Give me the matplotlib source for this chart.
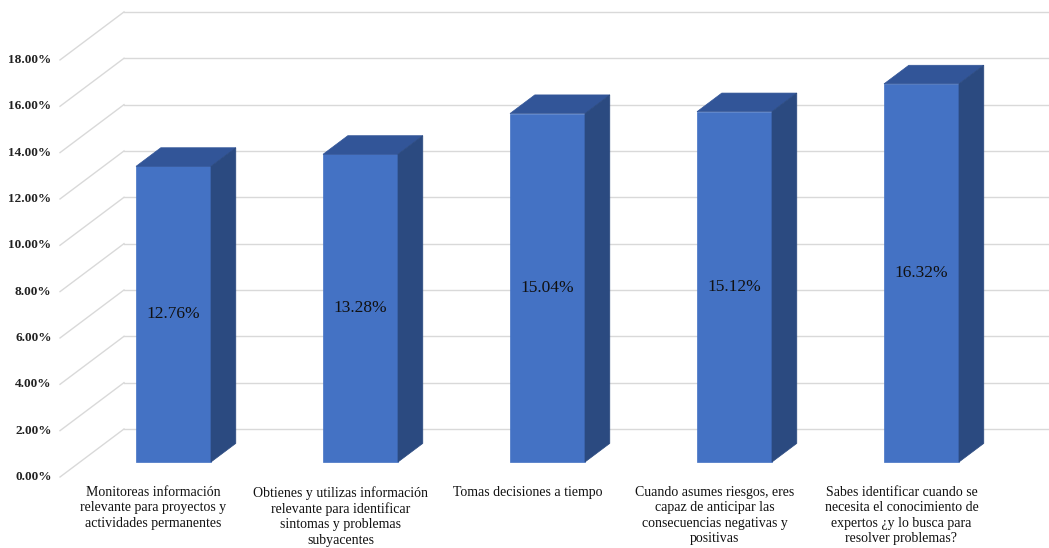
import matplotlib.pyplot as plt
from matplotlib.patches import Polygon

# datos del grafico
categorias = [
    "Monitoreas información\nrelevante para proyectos y\nactividades permanentes",
    "Obtienes y utilizas información\nrelevante para identificar\nsintomas y problemas\nsubyacentes",
    "Tomas decisiones a tiempo",
    "Cuando asumes riesgos, eres\ncapaz de anticipar las\nconsecuencias negativas y\npositivas",
    "Sabes identificar cuando se\nnecesita el conocimiento de\nexpertos ¿y lo busca para\nresolver problemas?",
]
valores = [12.76, 13.28, 15.04, 15.12, 16.32]
ticks = [0, 2, 4, 6, 8, 10, 12, 14, 16, 18]

plt.rcParams['font.family'] = ['Liberation Serif', 'DejaVu Serif']

fig = plt.figure(figsize=(10.49, 5.48), dpi=100)
ax = fig.add_axes([0, 0, 1, 1])
ax.set_xlim(-0.8209, 4.7888)
ax.set_ylim(-3.064, 20.587)
ax.axis('off')

# proyeccion oblicua: profundidad completa en unidades de datos
dx, dy = 0.3422, 2.072
d0, d1 = 0.3125, 0.70
hw = 0.2005

grid_col = '#D9D9D9'
for t in ticks:
    ax.plot([-0.5, -0.5 + dx], [t, t + dy], color=grid_col, lw=1, zorder=1)
    ax.plot([-0.5 + dx, 4.8], [t + dy, t + dy], color=grid_col, lw=1, zorder=1)
    ax.text(-0.545, t, '%.2f%%' % t, ha='right', va='center',
            fontsize=9.5, fontweight='bold', color='#222222')

c_front = '#4472C4'
c_top = '#325598'
c_side = '#2B4A80'

for i, v in enumerate(valores):
    l = i - hw + d0 * dx
    r = i + hw + d0 * dx
    b = d0 * dy
    sx = (d1 - d0) * dx
    sy = (d1 - d0) * dy
    front = Polygon([(l, b), (r, b), (r, v + b), (l, v + b)], closed=True,
                    facecolor=c_front, edgecolor=c_front, lw=0.5, zorder=3)
    top = Polygon([(l, v + b), (r, v + b), (r + sx, v + b + sy), (l + sx, v + b + sy)],
                  closed=True, facecolor=c_top, edgecolor=c_top, lw=0.5, zorder=3)
    side = Polygon([(r, b), (r + sx, b + sy), (r + sx, v + b + sy), (r, v + b)],
                   closed=True, facecolor=c_side, edgecolor=c_side, lw=0.5, zorder=3)
    ax.add_patch(front)
    ax.add_patch(top)
    ax.add_patch(side)
    ax.text((l + r) / 2, b + v / 2, '%.2f%%' % v, ha='center', va='center',
            fontsize=12.5, color='#111111', zorder=4)
    ax.text(i, -0.4, categorias[i], ha='center', va='top', fontsize=10,
            linespacing=1.22, color='#111111')

fig.savefig('out.png', dpi=100)
